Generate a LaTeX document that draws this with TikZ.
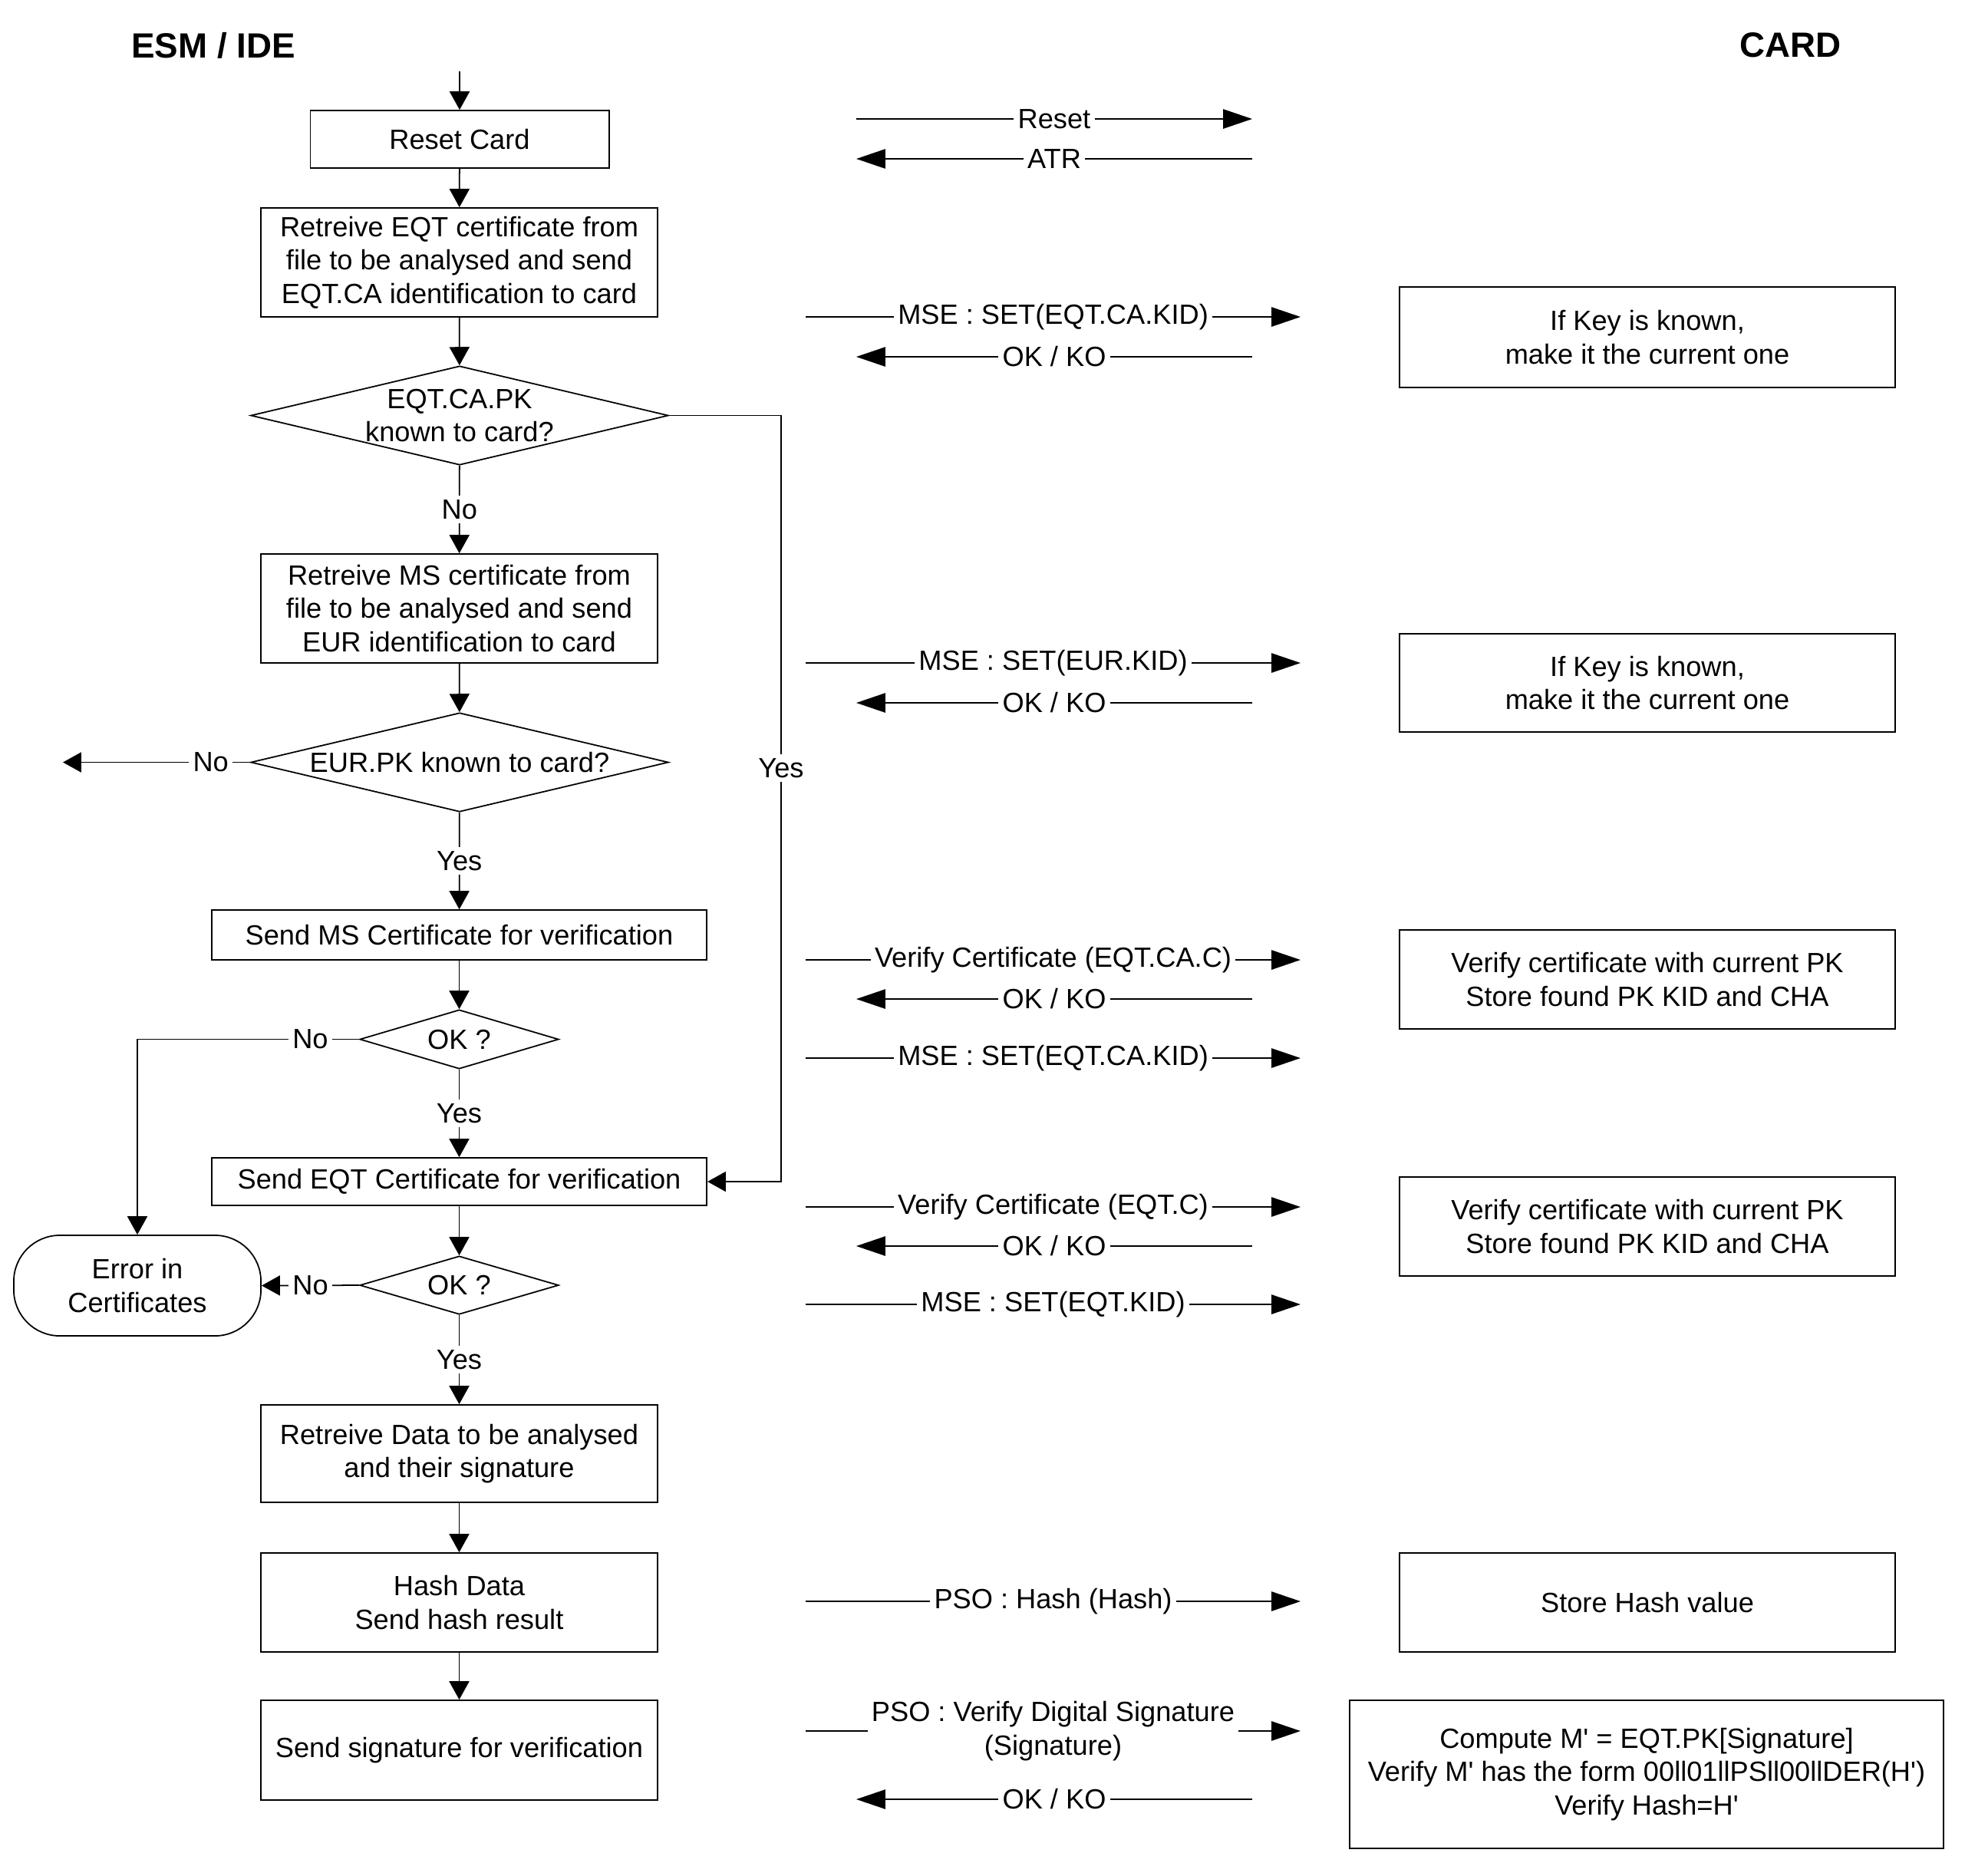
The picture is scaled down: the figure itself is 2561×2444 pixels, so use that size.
\documentclass[tikz,border=0pt]{standalone}
\usepackage{fontspec}
\setmainfont{Liberation Sans}
\usetikzlibrary{arrows.meta,shapes.geometric}
\newcommand\msgright[5]{%
  \coordinate (#1s) at (#3,#2); \coordinate (#1e) at (#4,#2);
  \draw[msg] (#1s) -- node[lbl] (#1l) {#5} (#1e);}
\newcommand\msgleft[2]{%
  \coordinate (#1s) at (1632,#2); \coordinate (#1e) at (1116,#2);
  \draw[msg] (#1s) -- node[lbl] (#1l) {OK / KO} (#1e);}
\begin{document}
\begin{tikzpicture}[x=0.01cm,y=-0.01cm,
  every node/.style={font=\fontsize{10.3pt}{12.4pt}\selectfont},
  box/.style={draw,line width=0.5pt,inner sep=0pt,align=center},
  dia/.style={draw,diamond,line width=0.5pt,inner sep=0pt},
  flow/.style={line width=0.5pt,-{Triangle[length=6.8pt,width=7.4pt]}},
  msg/.style={line width=0.5pt,-{Triangle[length=10.8pt,width=7.2pt]}},
  lbl/.style={fill=white,inner sep=1.5pt,align=center},
  hdr/.style={font=\fontsize{13pt}{15pt}\selectfont\bfseries}]
\useasboundingbox[fill=white] (0,0) rectangle (2561,2444);

% headers
\node[hdr] (hleft) at (278,59) {ESM / IDE};
\node[hdr] (hright) at (2333,59) {CARD};

% left flow
\coordinate (start) at (599,93);
\node[box,minimum width=3.89cm,minimum height=0.75cm] (reset) at (599,181.5) {Reset Card};
\node[box,minimum width=5.17cm,minimum height=1.42cm] (eqt) at (598.5,342) {Retreive EQT certificate from\\file to be analysed and send\\EQT.CA identification to card};
\node[dia,minimum width=5.44cm,minimum height=1.29cm] (d1) at (599,541.5) {};
\node[align=center] (d1t) at (d1) {EQT.CA.PK\\known to card?};
\node[box,minimum width=5.17cm,minimum height=1.42cm] (ms) at (598.5,793) {Retreive MS certificate from\\file to be analysed and send\\EUR identification to card};
\node[dia,minimum width=5.44cm,minimum height=1.29cm] (d2) at (599,993.5) {};
\node (d2t) at (d2) {EUR.PK known to card?};
\node[box,minimum width=6.45cm,minimum height=0.65cm] (sendms) at (598.5,1218.5) {Send MS Certificate for verification};
\node[dia,minimum width=2.59cm,minimum height=0.77cm] (d3) at (598.5,1354.5) {};
\node (d3t) at (d3) {OK ?};
\node[box,minimum width=6.45cm,minimum height=0.62cm] (sendeqt) at (598.5,1540) {Send EQT Certificate for verification};
\node[dia,minimum width=2.59cm,minimum height=0.76cm] (d4) at (598.5,1675) {};
\node (d4t) at (d4) {OK ?};
\node[box,rounded corners=0.6cm,minimum width=3.22cm,minimum height=1.31cm] (err) at (179,1675.5) {Error in\\Certificates};
\node[box,minimum width=5.17cm,minimum height=1.27cm] (data) at (598.5,1894.5) {Retreive Data to be analysed\\and their signature};
\node[box,minimum width=5.17cm,minimum height=1.29cm] (hash) at (598.5,2088.5) {Hash Data\\Send hash result};
\node[box,minimum width=5.17cm,minimum height=1.30cm] (sig) at (598.5,2281) {Send signature for verification};

% flow connectors
\draw[flow] (start) -- (reset);
\draw[flow] (reset) -- (eqt);
\draw[flow] (eqt) -- (d1);
\draw[flow] (d1) -- node[lbl] (no1) {No} (ms);
\draw[flow] (ms) -- (d2);
\coordinate (noend) at (82,993.5);
\draw[flow] (d2.west) -- node[lbl,pos=0.21] (no2) {No} (noend);
\draw[flow] (d2) -- node[lbl] (yes2) {Yes} (sendms);
\draw[flow] (sendms) -- (d3);
\draw[flow] (d3.west) -| node[lbl,pos=0.11] (no3) {No} (err.north);
\draw[flow] (d3) -- node[lbl] (yes3) {Yes} (sendeqt);
\coordinate (yesturn) at (1018,541.5);
\draw[flow] (d1.east) -- (yesturn) |- node[lbl,pos=0.23] (yes1) {Yes} (sendeqt.east);
\draw[flow] (sendeqt) -- (d4);
\draw[flow] (d4.west) -- node[lbl] (no4) {No} (err.east);
\draw[flow] (d4) -- node[lbl] (yes4) {Yes} (data);
\draw[flow] (data) -- (hash);
\draw[flow] (hash) -- (sig);

% card boxes
\node[box,minimum width=6.46cm,minimum height=1.31cm] (r1) at (2147,439.5) {If Key is known,\\make it the current one};
\node[box,minimum width=6.46cm,minimum height=1.28cm] (r2) at (2147,890) {If Key is known,\\make it the current one};
\node[box,minimum width=6.46cm,minimum height=1.29cm] (r3) at (2147,1276.5) {Verify certificate with current PK\\Store found PK KID and CHA};
\node[box,minimum width=6.46cm,minimum height=1.29cm] (r4) at (2147,1598.5) {Verify certificate with current PK\\Store found PK KID and CHA};
\node[box,minimum width=6.46cm,minimum height=1.29cm] (r5) at (2147,2088.5) {Store Hash value};
\node[box,minimum width=7.74cm,minimum height=1.93cm] (r6) at (2146,2312.5) {Compute M\textquotesingle{} = EQT.PK[Signature]\\Verify M\textquotesingle{} has the form 00ll01llPSll00llDER(H\textquotesingle)\\Verify Hash=H\textquotesingle};

% messages
\msgright{m1}{155}{1116}{1632}{Reset}
\coordinate (m2s) at (1632,207); \coordinate (m2e) at (1116,207);
\draw[msg] (m2s) -- node[lbl] (m2l) {ATR} (m2e);
\msgright{m3}{413}{1050}{1695}{MSE : SET(EQT.CA.KID)}
\msgleft{m4}{465}
\msgright{m5}{864}{1050}{1695}{MSE : SET(EUR.KID)}
\msgleft{m6}{916}
\msgright{m7}{1251}{1050}{1695}{Verify Certificate (EQT.CA.C)}
\msgleft{m8}{1302}
\msgright{m9}{1379}{1050}{1695}{MSE : SET(EQT.CA.KID)}
\msgright{m10}{1573}{1050}{1695}{Verify Certificate (EQT.C)}
\msgleft{m11}{1624}
\msgright{m12}{1700}{1050}{1695}{MSE : SET(EQT.KID)}
\msgright{m13}{2087}{1050}{1695}{PSO : Hash (Hash)}
\msgright{m14}{2256}{1050}{1695}{PSO : Verify Digital Signature\\(Signature)}
\msgleft{m15}{2345}
\end{tikzpicture}
\end{document}
